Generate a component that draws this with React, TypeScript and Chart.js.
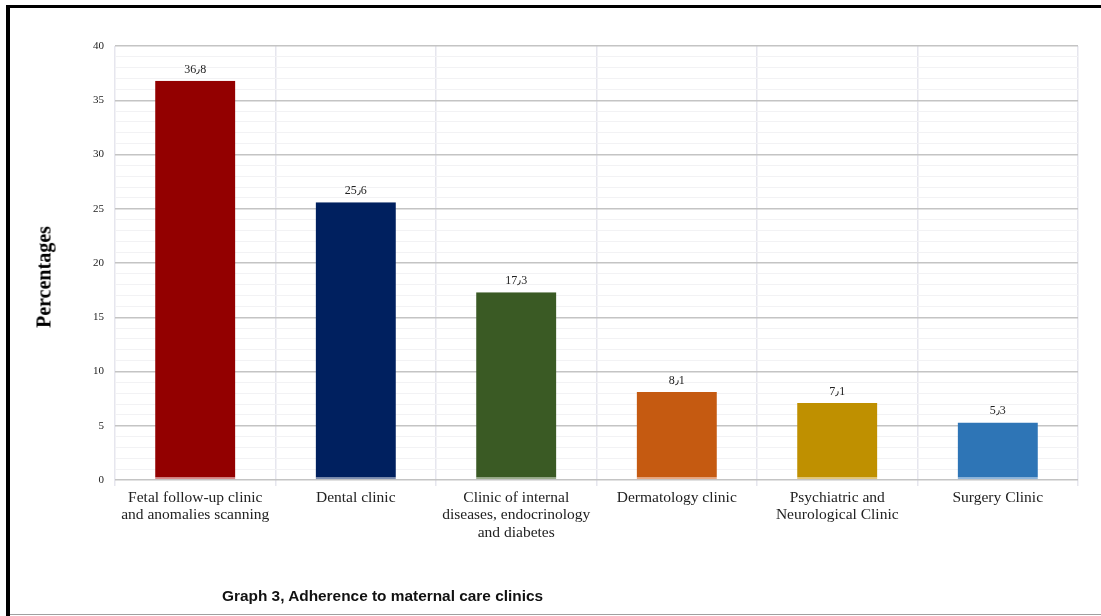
import React, { useEffect, useRef } from "react";
import { Chart, registerables } from "chart.js";

Chart.register(...registerables);

const categories: (string | string[])[] = [
  ["Fetal follow-up clinic", "and anomalies scanning"],
  "Dental clinic",
  ["Clinic of internal", "diseases, endocrinology", "and diabetes"],
  "Dermatology clinic",
  ["Psychiatric and", "Neurological Clinic"],
  "Surgery Clinic",
];
const percentages = [36.8, 25.6, 17.3, 8.1, 7.1, 5.3];
const valueLabels = ["36٫8", "25٫6", "17٫3", "8٫1", "7٫1", "5٫3"];
const barColors = ["#930000", "#00205f", "#3a5a24", "#c55a11", "#bf9000", "#2e75b6"];
const barBaseColors = ["#d98a8a", "#7f8fb0", "#9aad8c", "#e8a882", "#e3c77a", "#8fb6dc"];
const yMax = 40;
const yMajorStep = 5;
const titleText = "Percentages";
const captionText = "Graph 3, Adherence to maternal care clinics";

const valueLabelPlugin = {
  id: "valueLabels",
  afterDatasetsDraw(chart: any) {
    const ctx = chart.ctx;
    const meta = chart.getDatasetMeta(0);
    ctx.save();
    ctx.font = "12px 'Liberation Serif', 'DejaVu Serif', serif";
    ctx.fillStyle = "#222";
    ctx.textAlign = "center";
    ctx.textBaseline = "alphabetic";
    meta.data.forEach((bar: any, i: number) => {
      ctx.fillText(valueLabels[i], bar.x, bar.y - 8);
    });
    ctx.restore();
  },
};

export default function App() {
  const ref = useRef<HTMLCanvasElement>(null);
  useEffect(() => {
    if (!ref.current) return;
    const chart = new Chart(ref.current, {
      type: "bar",
      data: {
        labels: categories,
        datasets: [
          {
            data: percentages,
            backgroundColor: barColors,
            borderColor: barBaseColors,
            borderWidth: { top: 0, left: 0, right: 0, bottom: 2 },
            borderSkipped: false,
            categoryPercentage: 1,
            barPercentage: 0.5,
          },
        ],
      },
      options: {
        animation: false,
        responsive: false,
        maintainAspectRatio: false,
        layout: { padding: { left: 0, right: 23, top: 46, bottom: 40 } },
        plugins: {
          legend: { display: false },
          tooltip: { enabled: false },
        },
        scales: {
          x: {
            grid: {
              offset: true,
              color: "#e6e6ee",
              lineWidth: 1.5,
              drawTicks: true,
              tickLength: 6,
            },
            border: { display: false },
            ticks: {
              color: "#222",
              font: { family: "'Liberation Serif', serif", size: 15.5, lineHeight: 1.13 },
              padding: 3,
              maxRotation: 0,
              autoSkip: false,
            },
            afterFit(scale: any) {
              scale.height = 96;
            },
          },
          y: {
            min: 0,
            max: yMax,
            grid: {
              color: (c: any) =>
                c.tick && c.tick.value % yMajorStep === 0 ? "#c4c4c4" : "#f2f2f4",
              lineWidth: (c: any) =>
                c.tick && c.tick.value % yMajorStep === 0 ? 1.5 : 1,
              drawTicks: false,
            },
            border: { display: false },
            ticks: {
              stepSize: 1,
              autoSkip: false,
              color: "#222",
              font: { family: "'Liberation Serif', serif", size: 11 },
              padding: 11,
              callback: (v: any) => (Number(v) % yMajorStep === 0 ? String(v) : ""),
            },
            afterFit(scale: any) {
              scale.width = 115;
            },
          },
        },
      },
      plugins: [valueLabelPlugin],
    });
    return () => chart.destroy();
  }, []);

  return (
    <div
      style={{
        position: "fixed",
        left: 0,
        top: 0,
        width: 1101,
        height: 616,
        background: "#fff",
        overflow: "hidden",
      }}
    >
      <canvas
        ref={ref}
        width={1101}
        height={616}
        style={{ position: "absolute", left: 0, top: 0, width: 1101, height: 616 }}
      />
      <div style={{ position: "absolute", left: 6, top: 5, width: 4, height: 611, background: "#000" }} />
      <div style={{ position: "absolute", left: 6, top: 5, width: 1095, height: 3, background: "#000" }} />
      <div style={{ position: "absolute", left: 10, top: 614, width: 1091, height: 1, background: "#a0a0a0" }} />
      <div
        style={{
          position: "absolute",
          left: 44,
          top: 277,
          transform: "translate(-50%, -50%) rotate(-90deg)",
          font: "bold 20px 'Liberation Serif', serif",
          color: "#000",
          whiteSpace: "nowrap",
        }}
      >
        {titleText}
      </div>
      <div
        style={{
          position: "absolute",
          left: 222,
          top: 587,
          font: "bold 15.4px 'Liberation Sans', 'Open Sans', sans-serif",
          color: "#111",
          whiteSpace: "nowrap",
        }}
      >
        {captionText}
      </div>
    </div>
  );
}
